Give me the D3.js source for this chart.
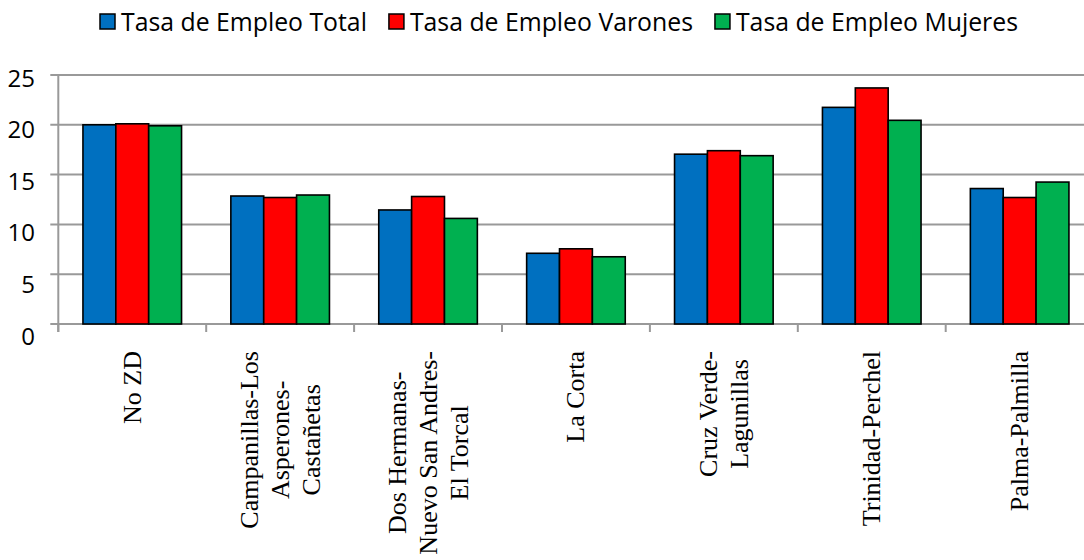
<!DOCTYPE html>
<html>
<head>
<meta charset="utf-8">
<script src="https://cdn.jsdelivr.net/npm/d3@7"></script>
<style>
    body { margin: 0; background: #fff; }
    svg { display: block; }
</style>
</head>
<body>
<div class="chart"></div>
<script>

// data
const categories = [
    ["No ZD"],
    ["Campanillas-Los", "Asperones-", "Castañetas"],
    ["Dos Hermanas-", "Nuevo San Andres-", "El Torcal"],
    ["La Corta"],
    ["Cruz Verde-", "Lagunillas"],
    ["Trinidad-Perchel"],
    ["Palma-Palmilla"]
];
const seriesNames = ["Tasa de Empleo Total", "Tasa de Empleo Varones", "Tasa de Empleo Mujeres"];
const empleoTotal   = [20.0, 12.85, 11.45, 7.1, 17.05, 21.75, 13.6];
const empleoVarones = [20.1, 12.7, 12.8, 7.55, 17.4, 23.7, 12.7];
const empleoMujeres = [19.9, 12.95, 10.6, 6.75, 16.9, 20.45, 14.25];
const yTicks = [0, 5, 10, 15, 20, 25];
const colors = ["#0070C0", "#FF0000", "#00B050"];

const values = [empleoTotal, empleoVarones, empleoMujeres];

function BarChart(container) {

    const width = 1084, height = 560;

    const svg = d3.select(container)
        .append("svg")
        .attr("width", width)
        .attr("height", height);

    // plot area (right side is cut off in the reference)
    const left = 58.3, step = 147.9, top = 75, bottom = 324;
    const keys = categories.map((c, i) => i);

    const x0 = d3.scaleBand()
        .domain(keys)
        .range([left, left + step * keys.length])
        .paddingInner(1 / 3)
        .paddingOuter(1 / 6);

    const x1 = d3.scaleBand()
        .domain(seriesNames)
        .range([0, x0.bandwidth()]);

    const yScale = d3.scaleLinear().domain([0, 25]).range([bottom, top]);
    // tick labels sit a little lower than the lines in the reference
    const yLabel = d3.scaleLinear().domain([0, 25]).range([335, 77]);

    // gridlines
    svg.append("g")
        .selectAll("line")
        .data(yTicks)
        .join("line")
        .attr("x1", left - 8)
        .attr("x2", width)
        .attr("y1", d => yScale(d))
        .attr("y2", d => yScale(d))
        .attr("stroke", "#999")
        .attr("stroke-width", 2);

    // y axis line
    svg.append("line")
        .attr("x1", left).attr("x2", left)
        .attr("y1", yScale(25)).attr("y2", bottom + 8)
        .attr("stroke", "#999")
        .attr("stroke-width", 2);

    // category ticks
    const bounds = d3.range(keys.length + 1).map(i => x0.range()[0] + i * x0.step());
    svg.append("g")
        .selectAll("line")
        .data(bounds)
        .join("line")
        .attr("x1", d => d).attr("x2", d => d)
        .attr("y1", bottom).attr("y2", bottom + 8)
        .attr("stroke", "#999")
        .attr("stroke-width", 2);

    // y labels
    svg.append("g")
        .selectAll("text")
        .data(yTicks)
        .join("text")
        .attr("x", 35)
        .attr("y", d => yLabel(d))
        .attr("text-anchor", "end")
        .attr("dominant-baseline", "central")
        .attr("font-family", "Open Sans, sans-serif")
        .attr("font-size", 24)
        .attr("fill", "#000")
        .text(d => d);

    // bars
    const groups = svg.append("g")
        .selectAll("g")
        .data(keys)
        .join("g")
        .attr("transform", d => `translate(${x0(d)},0)`);

    groups.selectAll("rect")
        .data(k => seriesNames.map((s, j) => ({ s, j, v: values[j][k] })))
        .join("rect")
        .attr("x", d => x1(d.s))
        .attr("y", d => yScale(d.v))
        .attr("width", x1.bandwidth())
        .attr("height", d => bottom - yScale(d.v))
        .attr("fill", d => colors[d.j])
        .attr("stroke", "#000")
        .attr("stroke-width", 1.6);

    // x labels, rotated, lines centred on the longest one
    const lineGap = 31, labelTop = 351;
    keys.forEach(k => {
        const lines = categories[k];
        const cx = x0(k) + x0.bandwidth() / 2;
        const g = svg.append("g")
            .attr("transform", `translate(${cx},${labelTop}) rotate(-90)`);
        const texts = g.selectAll("text")
            .data(lines)
            .join("text")
            .attr("y", (d, i) => (i - (lines.length - 1) / 2) * lineGap)
            .attr("text-anchor", "middle")
            .attr("dominant-baseline", "central")
            .attr("font-family", "Liberation Serif, Times New Roman, serif")
            .attr("font-size", 26)
            .attr("fill", "#000")
            .text(d => d);
        let maxLen = 0;
        texts.each(function () { maxLen = Math.max(maxLen, this.getComputedTextLength()); });
        texts.attr("x", -maxLen / 2);
    });

    // legend
    const legend = svg.append("g");
    let lx = 100;
    seriesNames.forEach((s, j) => {
        legend.append("rect")
            .attr("x", lx).attr("y", 14)
            .attr("width", 15).attr("height", 15)
            .attr("fill", colors[j])
            .attr("stroke", "#000")
            .attr("stroke-width", 1.5);
        const t = legend.append("text")
            .attr("x", lx + 21)
            .attr("y", 30.5)
            .attr("font-family", "Open Sans, sans-serif")
            .attr("font-size", 24.8)
            .attr("fill", "#000")
            .text(s);
        lx += 21 + t.node().getComputedTextLength() + 22;
    });
}

BarChart(".chart");
</script>
</body>
</html>
